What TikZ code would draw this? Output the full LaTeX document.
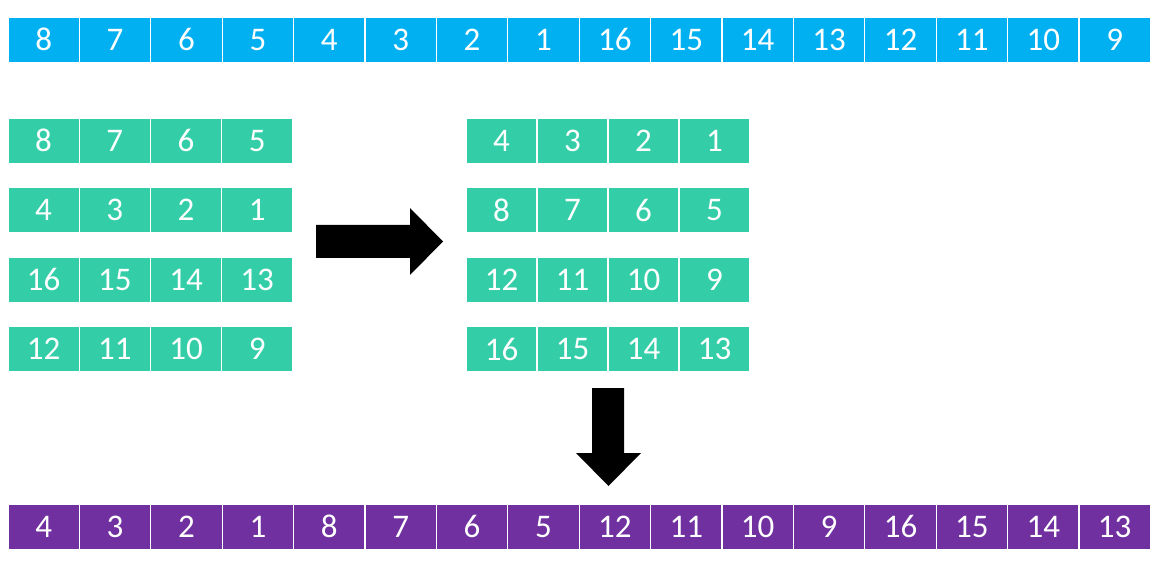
\documentclass[tikz,border=0pt]{standalone}
\usepackage{fontspec}
\setmainfont{Carlito}
\definecolor{cblue}{HTML}{00B0F0}
\definecolor{cgreen}{HTML}{33CEA8}
\definecolor{cpurple}{HTML}{7030A0}
\newcommand{\cellnum}[1]{\raisebox{-1.5pt}{\fontsize{33}{37}\selectfont #1}}
\begin{document}
\begin{tikzpicture}[x=1pt,y=-1pt,
  cell/.style={draw=white, line width=1.2pt, minimum width=71.4pt, minimum height=45.5pt,
    inner sep=0pt, outer sep=0pt, text=white, anchor=north west},
  blockarrow/.style={fill=black, draw=none}]
\useasboundingbox (0,0) rectangle (1173,569);
% top row
\foreach \v [count=\i] in {8,7,6,5,4,3,2,1,16,15,14,13,12,11,10,9}
  \node[cell, fill=cblue] (t\i) at ({8+(\i-1)*71.4},17) {\cellnum{\v}};
% left groups
\foreach \row [count=\r] in {{8,7,6,5},{4,3,2,1},{16,15,14,13},{12,11,10,9}}
  \foreach \v [count=\c] in \row
    \node[cell, fill=cgreen, minimum width=71.2pt] (l\r-\c) at ({8+(\c-1)*71.2},{118+(\r-1)*69.5}) {\cellnum{\v}};
% right groups
\foreach \row [count=\r] in {{4,3,2,1},{8,7,6,5},{12,11,10,9},{16,15,14,13}}
  \foreach \v [count=\c] in \row
    \node[cell, fill=cgreen, minimum width=71pt] (r\r-\c) at ({466+(\c-1)*71},{118+(\r-1)*69.5}) {\cellnum{\v}};
% bottom row
\foreach \v [count=\i] in {4,3,2,1,8,7,6,5,12,11,10,9,16,15,14,13}
  \node[cell, fill=cpurple] (b\i) at ({8+(\i-1)*71.4},504) {\cellnum{\v}};
% block arrows
\fill[blockarrow] (316,225) -- (410,225) -- (410,208) -- (443,241.5) -- (410,275)
  -- (410,258) -- (316,258) -- cycle;
\fill[blockarrow] (592,388) -- (624,388) -- (624,453) -- (641,453) -- (608.5,486)
  -- (576,453) -- (592,453) -- cycle;
\end{tikzpicture}
\end{document}
